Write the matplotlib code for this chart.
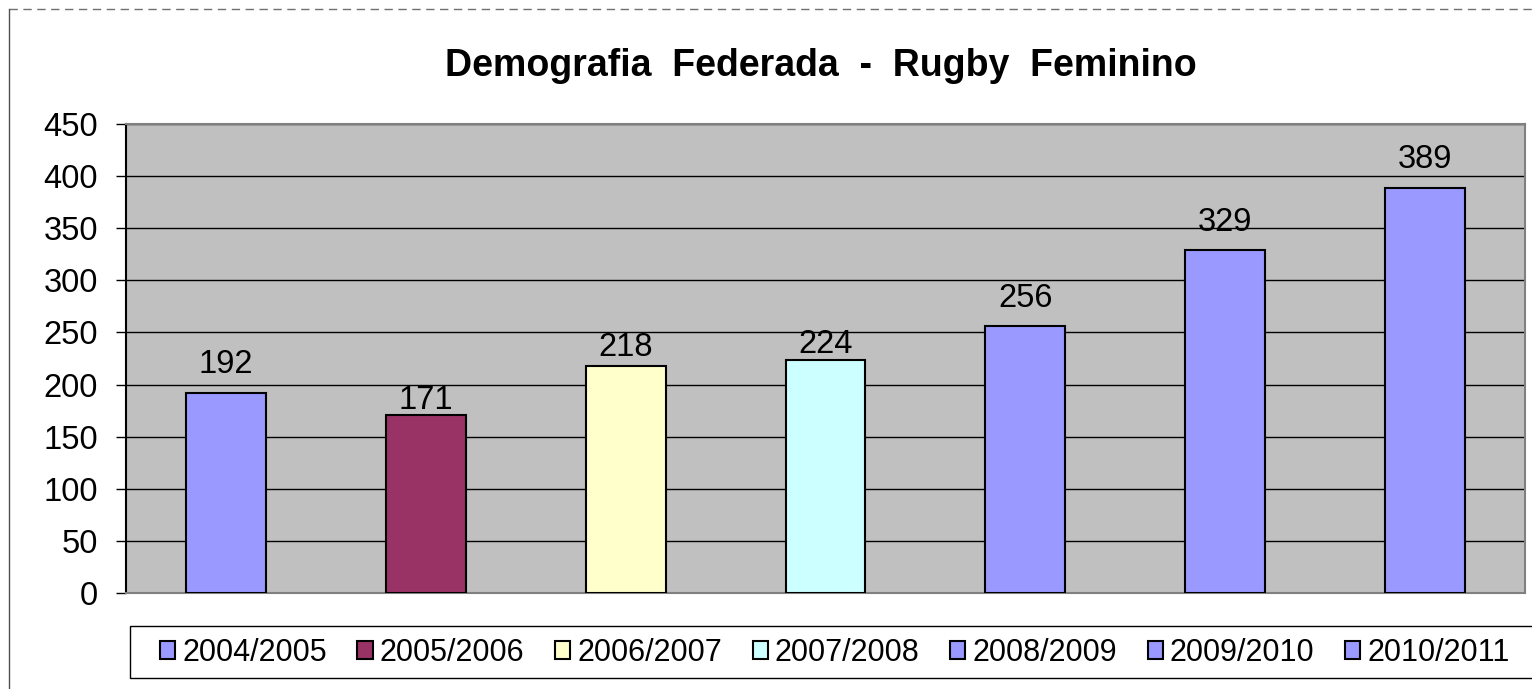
import matplotlib
matplotlib.use("Agg")
import matplotlib.pyplot as plt
from matplotlib.patches import Rectangle
from matplotlib.lines import Line2D

seasons = ["2004/2005", "2005/2006", "2006/2007", "2007/2008",
           "2008/2009", "2009/2010", "2010/2011"]
players = [192, 171, 218, 224, 256, 329, 389]
colors = ["#9999FF", "#993366", "#FFFFCC", "#CCFFFF",
          "#9999FF", "#9999FF", "#9999FF"]
# gap (points) between bar top and its value label, as placed in the original
label_gap = [14, 4, 7, 5, 14, 14, 14]

plt.rcParams['font.family'] = ['Liberation Sans', 'DejaVu Sans']

W, H = 1532, 689
fig = plt.figure(figsize=(W / 100, H / 100), dpi=100)

# outer chart border (cut off at the right/bottom in the original)
fig.add_artist(Line2D([9 / W, 1.0], [1 - 9 / H, 1 - 9 / H], transform=fig.transFigure,
                      color="#707070", lw=1, ls=(0, (6, 4))))
fig.add_artist(Line2D([9 / W, 9 / W], [0, 1 - 9 / H], transform=fig.transFigure,
                      color="#505050", lw=1))

ax = fig.add_axes([126 / W, (H - 593) / H, 1399 / W, (593 - 124) / H])
ax.set_facecolor("#C0C0C0")

x = range(len(seasons))
bars = ax.bar(x, players, width=0.4, color=colors, edgecolor="black", linewidth=1.5, zorder=3)
for b, v, g in zip(bars, players, label_gap):
    ax.annotate(str(v), (b.get_x() + b.get_width() / 2, v), xytext=(0, g),
                textcoords="offset points", ha="center", va="baseline",
                fontsize=23.5, zorder=4)

ax.set_xlim(-0.5, len(seasons) - 0.5)
ax.set_ylim(0, 450)
ax.set_yticks(range(0, 451, 50))
ax.yaxis.grid(True, color="black", lw=1)
ax.set_axisbelow(True)
ax.set_xticks([])
ax.tick_params(axis="y", labelsize=23.5, length=7, width=1, direction="out", pad=13)
ax.spines["left"].set_color("black")
ax.spines["bottom"].set_color("#808080")
ax.spines["top"].set_color("#808080")
ax.spines["right"].set_color("#808080")
for s in ax.spines.values():
    s.set_linewidth(1.5)

fig.text(821 / W, 1 - 76 / H, "Demografia  Federada  -  Rugby  Feminino", ha="center", va="baseline",
         fontsize=27, fontweight="bold")

# legend frame (runs off the right edge like the original)
fig.add_artist(Rectangle((130 / W, (H - 678) / H), 1450 / W, 52 / H, transform=fig.transFigure,
                         facecolor="white", edgecolor="black", lw=1, zorder=1))
handles = [Rectangle((0, 0), 1, 1, facecolor=c, edgecolor="black", lw=1.5) for c in colors]
leg = fig.legend(handles, seasons, loc="center left", bbox_to_anchor=(160 / W, (H - 653) / H),
                 ncol=7, fontsize=22, frameon=False, handlelength=0.5, handleheight=0.5,
                 handletextpad=0.23, borderaxespad=0, borderpad=0, columnspacing=1.0)
leg.set_zorder(2)

fig.savefig("out.png", dpi=100)
